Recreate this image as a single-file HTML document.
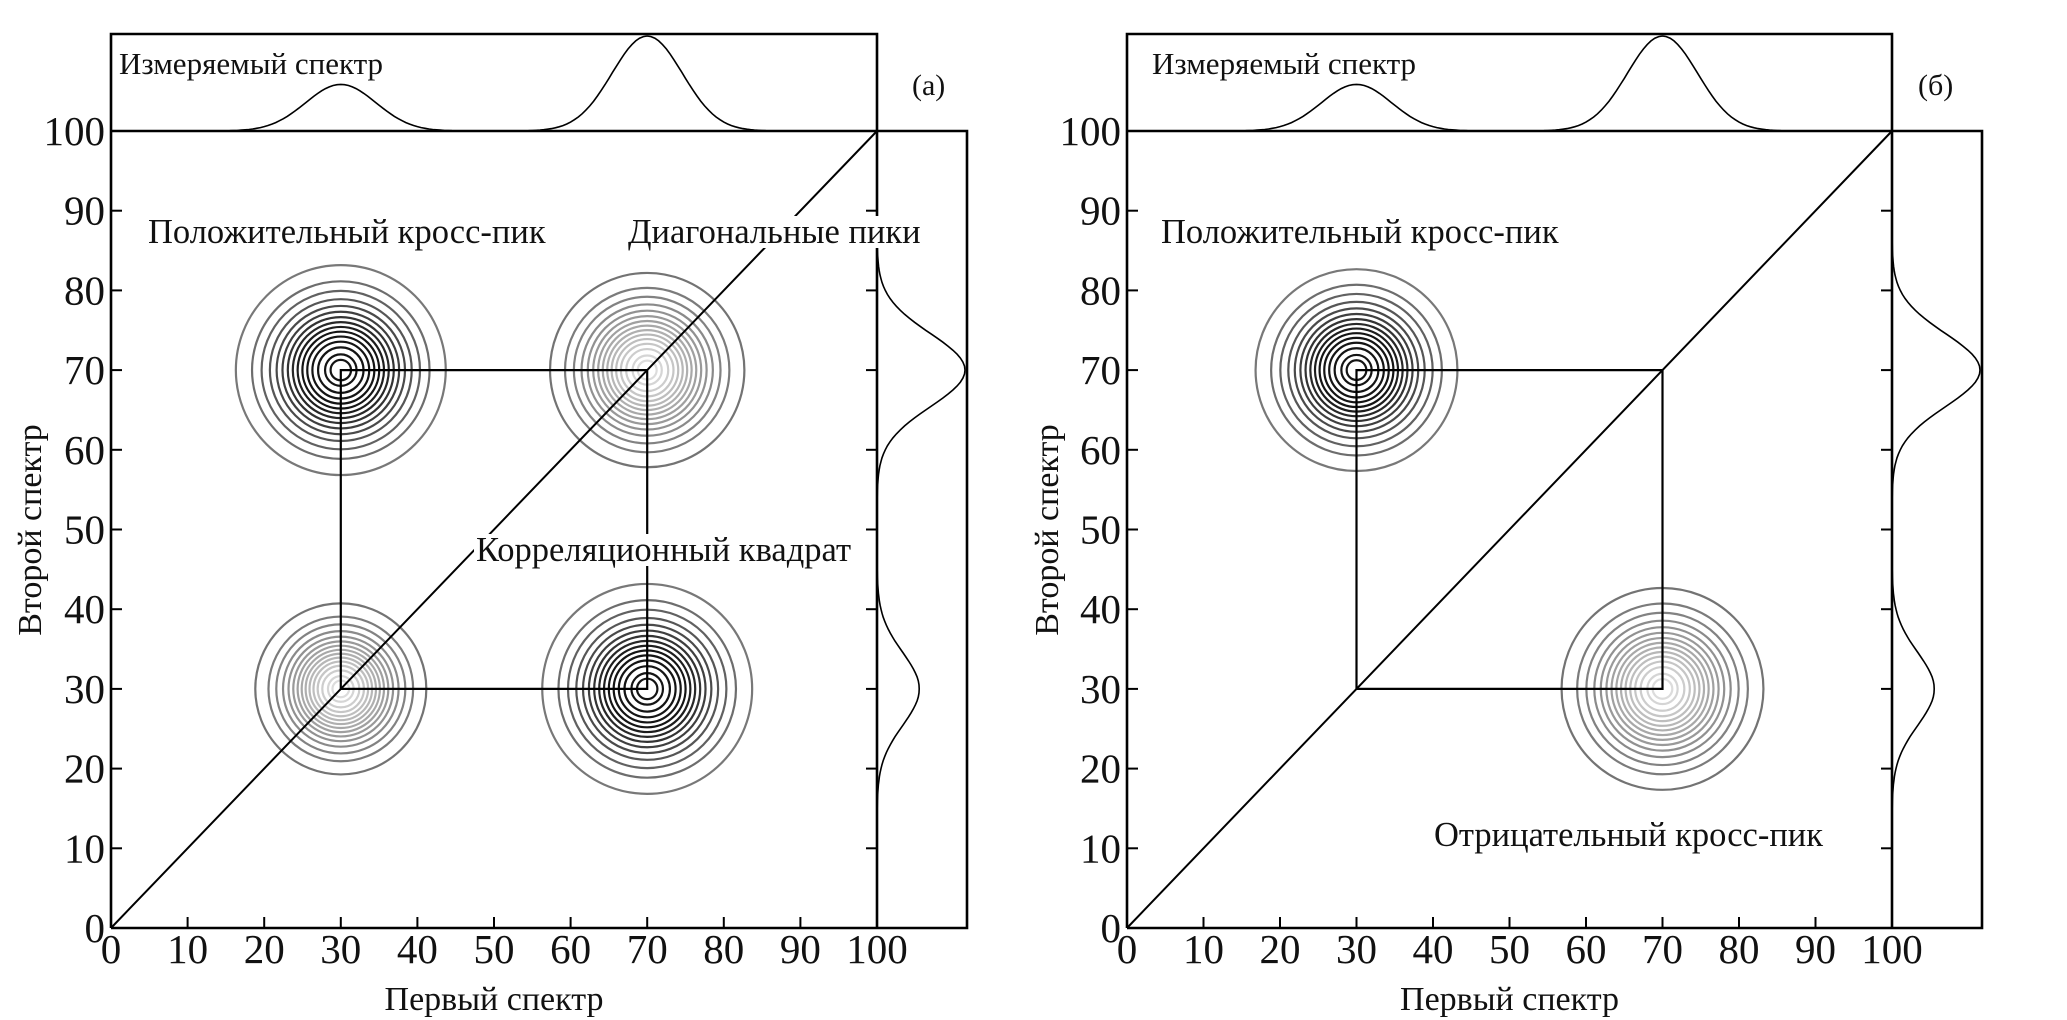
<!DOCTYPE html>
<html><head><meta charset="utf-8"><style>
html,body{margin:0;padding:0;background:#fff;width:2067px;height:1020px;overflow:hidden}
svg{display:block}
text{font-family:"Liberation Serif","DejaVu Serif",serif;fill:#111}
</style></head><body>
<svg id="fig" width="2067" height="1020" viewBox="0 0 2067 1020" xmlns="http://www.w3.org/2000/svg"></svg>
<script>
// ---- data ----
const ticks = [0,10,20,30,40,50,60,70,80,90,100];
const specPeaks = [30,70];
const topHeights = [0.49,1.0];
const rightHeights = [0.48,1.0];
const specSigma = [4.6,4.6];
const contourLevels = [0.04,0.1,0.16,0.23,0.3,0.37,0.44,0.51,0.58,0.65,0.72,0.79,0.86,0.93,0.97];
// panel a peaks
const aPeakX = [30,70,30,70];
const aPeakY = [70,70,30,30];
const aPeakSigma = [5.4,5.0,4.4,5.4];
const aPeakDark = [1,0,0,1];
// panel b peaks
const bPeakX = [30,70];
const bPeakY = [70,30];
const bPeakSigma = [5.2,5.2];
const bPeakDark = [1,0];
const squareLo = 30, squareHi = 70;

const NS="http://www.w3.org/2000/svg";
const svg=document.getElementById('fig');
function mk(tag,attrs,parent){const e=document.createElementNS(NS,tag);for(const k in attrs)e.setAttribute(k,attrs[k]);(parent||svg).appendChild(e);return e;}

function panel(P){
  const g=mk('g',{});
  
  
  const sx=v=>P.x0+(P.x1-P.x0)*v/100;
  const sy=v=>P.y0-(P.y0-P.y1)*v/100;
  const top=34, rEdge=P.x1+90;
  // contours
  for(let i=0;i<P.px.length;i++){
    for(let j=0;j<contourLevels.length;j++){
      const l=contourLevels[j];
      const r=P.ps[i]*Math.sqrt(-2*Math.log(l))*(P.x1-P.x0)/100;
      const t=j/(contourLevels.length-1);
      let c;
      if(P.pd[i]){const v=Math.round(120-100*Math.min(1,t*1.6));c=`rgb(${v},${v},${v})`;}
      else{const v=Math.round(115+105*t);c=`rgb(${v},${v},${v})`;}
      const e=mk('circle',{cx:sx(P.px[i]),cy:sy(P.py[i]),r:r,fill:'none',stroke:c,'stroke-width':2.2},g);
      
      
    }
  }
  // diagonal
  const d=mk('line',{x1:sx(0),y1:sy(0),x2:sx(100),y2:sy(100),stroke:'#000','stroke-width':2},g);
  
  
  // correlation square
  const sq=mk('polygon',{points:`${sx(squareLo)},${sy(squareHi)} ${sx(squareHi)},${sy(squareHi)} ${sx(squareHi)},${sy(squareLo)} ${sx(squareLo)},${sy(squareLo)}`,fill:'none',stroke:'#000','stroke-width':2.2},g);
  
  
  // frames
  const fr=mk('path',{d:`M${P.x0},${P.y0} L${P.x0},${top} L${P.x1},${top} L${P.x1},${P.y0} M${P.x0},${P.y1} L${rEdge},${P.y1} L${rEdge},${P.y0} L${P.x0},${P.y0}`,fill:'none',stroke:'#000','stroke-width':2.6},g);
  
  
  // ticks
  for(const t of ticks){
    if(t>0&&t<100){
      mk('line',{x1:sx(t),y1:P.y0,x2:sx(t),y2:P.y0-11,stroke:'#000','stroke-width':2},g);
      mk('line',{x1:P.x0,y1:sy(t),x2:P.x0+11,y2:sy(t),stroke:'#000','stroke-width':2},g);
      mk('line',{x1:P.x1,y1:sy(t),x2:P.x1-11,y2:sy(t),stroke:'#000','stroke-width':2},g);
    }
    const xl=mk('text',{x:sx(t),y:P.y0+35,'font-size':41,'text-anchor':'middle'},g);
    xl.textContent=t;
    
    
    const yl=mk('text',{x:P.x0-6,y:sy(t)+14,'font-size':41,'text-anchor':'end'},g);
    yl.textContent=t;
    
    
  }
  // spectra
  const gauss=(v,H)=>{let s=0;for(let k=0;k<specPeaks.length;k++)s+=H[k]*Math.exp(-Math.pow(v-specPeaks[k],2)/(2*specSigma[k]*specSigma[k]));return s;};
  let pt='',pr='';
  const hT=P.y1-top-2, hR=88;
  for(let v=15;v<=86;v+=0.5){
    pt+=(pt?' L':'M')+sx(v).toFixed(1)+','+(P.y1-hT*gauss(v,topHeights)).toFixed(1);
    pr+=(pr?' L':'M')+(P.x1+hR*gauss(v,rightHeights)).toFixed(1)+','+sy(v).toFixed(1);
  }
  const ts=mk('path',{d:pt,fill:'none',stroke:'#000','stroke-width':1.6},g);
  
  
  const rs=mk('path',{d:pr,fill:'none',stroke:'#000','stroke-width':1.6},g);
  
  
  // labels
  for(const L of P.labels){
    const t=mk('text',{x:L.x,y:L.y,'font-size':L.fs||34.5},g);
    t.textContent=L.t;
    
    
    if(L.bg){const bb=t.getBBox();const r=mk('rect',{x:bb.x-2,y:bb.y+3,width:bb.width+4,height:bb.height-6,fill:'#fff'},g);g.insertBefore(r,t);}
  }
  const xt=mk('text',{x:(P.x0+P.x1)/2,y:1010,'font-size':34,'text-anchor':'middle'},g);
  xt.textContent='Первый спектр';
  
  
  const yt=mk('text',{x:0,y:0,'font-size':34,'text-anchor':'middle',transform:`translate(${P.ytx},530) rotate(-90)`},g);
  yt.textContent='Второй спектр';
  
  
}

panel({name:'panel-a',x0:111,x1:877,y0:928,y1:131,px:aPeakX,py:aPeakY,ps:aPeakSigma,pd:aPeakDark,ytx:41,
 labels:[{t:'Измеряемый спектр',x:119,y:74,n:'measured-spectrum-label',fs:31},
 {t:'(a)',x:912,y:95,n:'panel-a-tag',fs:30},
 {t:'Положительный кросс-пик',x:148,y:243,n:'positive-crosspeak-label',bg:1},
 {t:'Диагональные пики',x:628,y:243,n:'diagonal-peaks-label',bg:1},
 {t:'Корреляционный квадрат',x:476,y:561,n:'correlation-square-label',bg:1}]});
panel({name:'panel-b',x0:1127,x1:1892,y0:928,y1:131,px:bPeakX,py:bPeakY,ps:bPeakSigma,pd:bPeakDark,ytx:1058,
 labels:[{t:'Измеряемый спектр',x:1152,y:74,n:'measured-spectrum-label',fs:31},
 {t:'(б)',x:1918,y:95,n:'panel-b-tag',fs:30},
 {t:'Положительный кросс-пик',x:1161,y:243,n:'positive-crosspeak-label',bg:1},
 {t:'Отрицательный кросс-пик',x:1434,y:846,n:'negative-crosspeak-label',bg:1}]});
</script>
</body></html>
